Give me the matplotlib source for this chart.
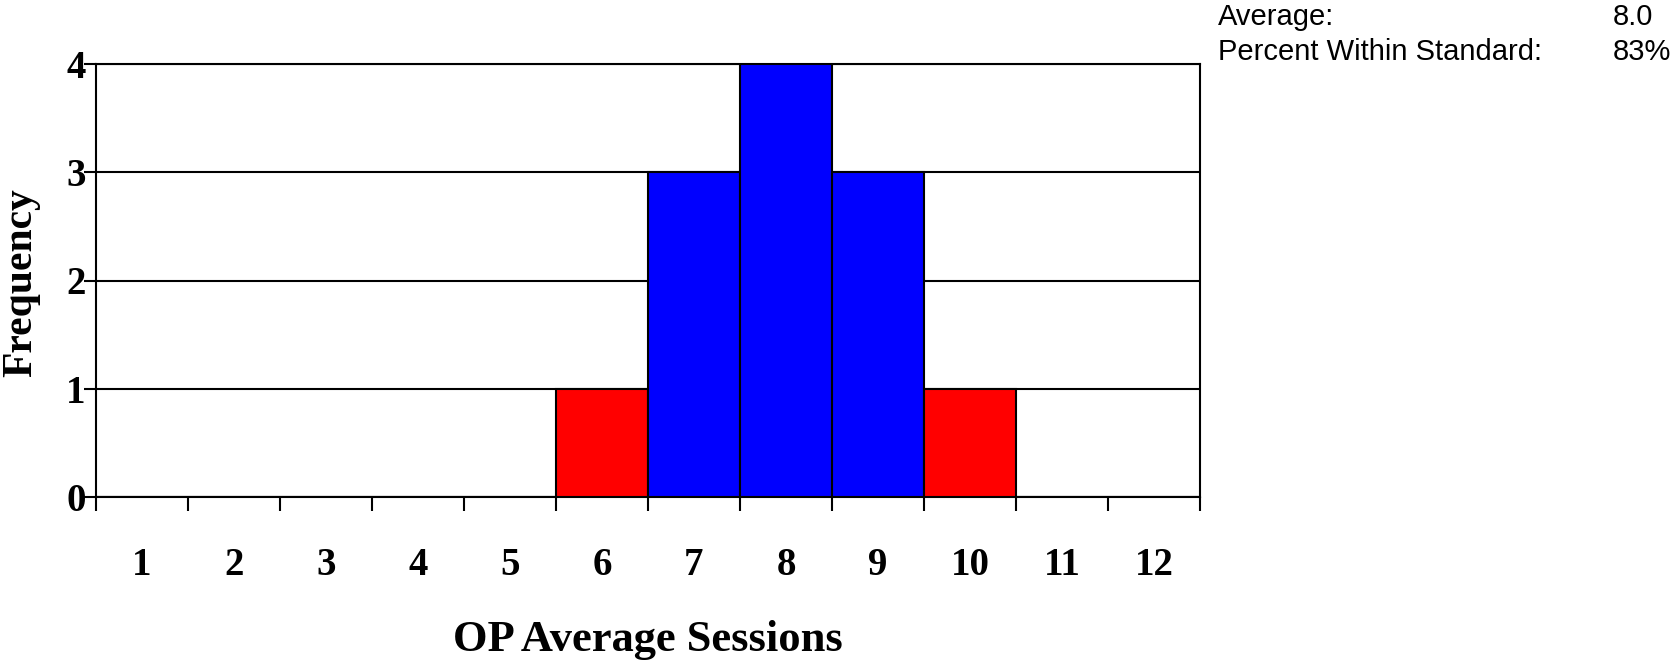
import matplotlib
matplotlib.use("Agg")
import matplotlib.pyplot as plt
import numpy as np

categories = [1, 2, 3, 4, 5, 6, 7, 8, 9, 10, 11, 12]
frequencies = [0, 0, 0, 0, 0, 1, 3, 4, 3, 1, 0, 0]
bar_colors = ["#0000FF", "#0000FF", "#0000FF", "#0000FF", "#0000FF", "#FF0000",
              "#0000FF", "#0000FF", "#0000FF", "#FF0000", "#0000FF", "#0000FF"]
y_ticks = [0, 1, 2, 3, 4]
stat_labels = ["Average:", "Percent Within Standard:"]
stat_values = ["8.0", "83%"]
x_title = "OP Average Sessions"
y_title = "Frequency"

W, H = 1673, 662
fig = plt.figure(figsize=(W / 100, H / 100), dpi=100)
L, R, T, B = 96, 1200, 64, 497
ax = fig.add_axes([L / W, 1 - B / H, (R - L) / W, (B - T) / H])

ax.bar(categories, frequencies, width=1.0, color=bar_colors,
       edgecolor="black", linewidth=1.5, zorder=3)

ax.set_xlim(0.5, 12.5)
ax.set_ylim(0, 4)

serif = ["Liberation Serif", "DejaVu Serif"]
ax.set_yticks(y_ticks)
ax.set_yticklabels([str(v) for v in y_ticks], fontfamily=serif,
                   fontweight="bold", fontsize=28)
ax.yaxis.grid(True, color="black", linewidth=1.5, zorder=1)
ax.tick_params(axis="y", length=8.5, width=1.5, pad=-1, colors="black")

ax.set_xticks(categories)
ax.set_xticklabels([str(c) for c in categories], fontfamily=serif,
                   fontweight="bold", fontsize=28)
ax.tick_params(axis="x", which="major", length=0, pad=36)
edges = np.arange(0.5, 13.0, 1.0)
ax.set_xticks(edges, minor=True)
ax.tick_params(axis="x", which="minor", length=10, width=1.5, direction="out")

for s in ax.spines.values():
    s.set_linewidth(1.5)
    s.set_color("black")

fig.text((L + R) / 2 / W, 1 - 651 / H, x_title, ha="center", va="baseline",
         fontfamily=serif, fontweight="bold", fontsize=32)
fig.text(21 / W, 1 - 283 / H, y_title, ha="center", va="center", rotation=90,
         fontfamily=serif, fontweight="bold", fontsize=30)

sans = ["Liberation Sans", "DejaVu Sans"]
for i, (lab, val) in enumerate(zip(stat_labels, stat_values)):
    y = 1 - (17 + 35 * i) / H
    fig.text(1218 / W, y, lab, ha="left", va="center", fontfamily=sans, fontsize=21)
    fig.text(1613 / W, y, val, ha="left", va="center", fontfamily=sans, fontsize=21)

fig.savefig("out.png", dpi=100)
